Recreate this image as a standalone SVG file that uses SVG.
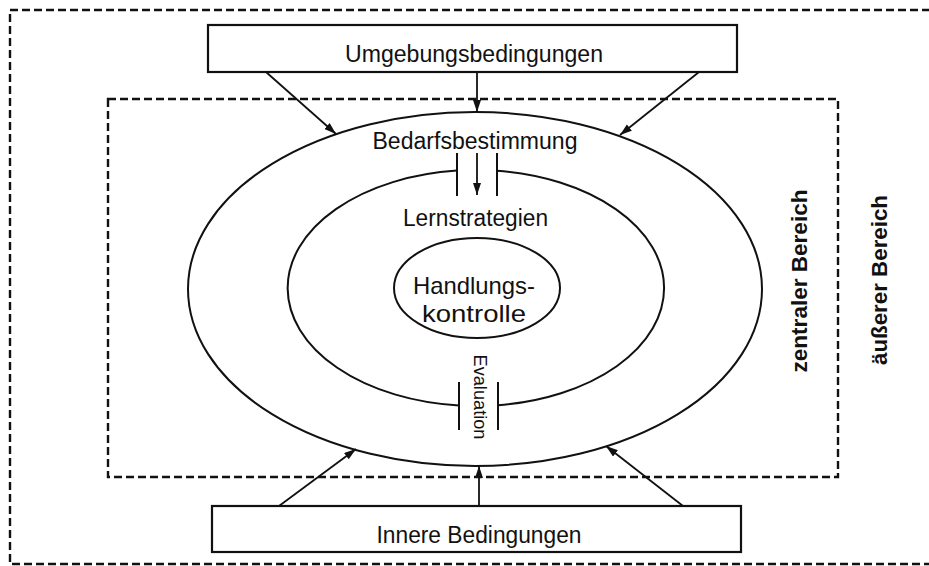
<svg xmlns="http://www.w3.org/2000/svg" width="929" height="566" viewBox="0 0 929 566">
  <style>
    .dash { fill: none; stroke: #111; stroke-width: 2.4; stroke-dasharray: 8 4; }
    .box { fill: #fff; stroke: #111; stroke-width: 2.2; }
    .ell { fill: none; stroke: #111; stroke-width: 2; }
    .ln { fill: none; stroke: #111; stroke-width: 2; }
    .arr { fill: none; stroke: #111; stroke-width: 1.8; marker-end: url(#ah); }
    .t { font-family: "Liberation Sans", Arial, sans-serif; font-size: 23px; fill: #111; text-anchor: middle; }
    .tb { font-family: "Liberation Sans", Arial, sans-serif; font-size: 22px; font-weight: bold; fill: #111; text-anchor: middle; }
  </style>
  <defs>
    <marker id="ah" markerUnits="userSpaceOnUse" markerWidth="14" markerHeight="10" refX="12" refY="4" orient="auto">
      <path d="M0,0 L12,4 L0,8 Z" fill="#111"/>
    </marker>
  </defs>
  <rect width="929" height="566" fill="#fff"/>

  <g id="aeusserer-bereich">
    <rect class="dash" x="10" y="10" width="940" height="554"/>
    <text class="tb" transform="translate(887,280) rotate(-90)" textLength="170" lengthAdjust="spacingAndGlyphs">äußerer Bereich</text>
  </g>
  <g id="zentraler-bereich">
    <rect class="dash" x="108" y="99" width="730" height="378"/>
    <text class="tb" transform="translate(807,281) rotate(-90)" textLength="183" lengthAdjust="spacingAndGlyphs">zentraler Bereich</text>
  </g>

  <g id="umgebungsbedingungen">
    <rect class="box" x="208" y="25" width="529" height="47"/>
    <text class="t" x="474" y="62" textLength="258" lengthAdjust="spacingAndGlyphs">Umgebungsbedingungen</text>
  </g>
  <g id="innere-bedingungen">
    <rect class="box" x="212" y="506" width="529" height="46"/>
    <text class="t" x="479" y="543" textLength="205" lengthAdjust="spacingAndGlyphs">Innere Bedingungen</text>
  </g>

  <g id="bedarfsbestimmung">
    <ellipse class="ell" cx="475" cy="289" rx="287" ry="177"/>
    <text class="t" x="475" y="149" textLength="205" lengthAdjust="spacingAndGlyphs">Bedarfsbestimmung</text>
  </g>
  <g id="lernstrategien">
    <path class="ell" d="M457,170.6 A188.5,118 0 0 0 459,405.5"/>
    <path class="ell" d="M497,170.8 A188.5,118 0 0 1 498,405.2"/>
    <line class="ln" x1="457" y1="153" x2="457" y2="196"/>
    <line class="ln" x1="497" y1="153" x2="497" y2="196"/>
    <line class="ln" x1="459" y1="382" x2="459" y2="430"/>
    <line class="ln" x1="498" y1="382" x2="498" y2="430"/>
    <text class="t" x="475.5" y="226" textLength="145" lengthAdjust="spacingAndGlyphs">Lernstrategien</text>
  </g>
  <g id="handlungskontrolle">
    <ellipse class="ell" cx="477" cy="288" rx="83" ry="50"/>
    <text class="t" x="474" y="294" style="font-size:24px" textLength="122" lengthAdjust="spacingAndGlyphs">Handlungs-</text>
    <text class="t" x="474" y="322" style="font-size:24px" textLength="104" lengthAdjust="spacingAndGlyphs">kontrolle</text>
  </g>
  <g id="evaluation">
    <text class="t" transform="translate(474,397) rotate(90)" style="font-size:18px" textLength="85" lengthAdjust="spacingAndGlyphs">Evaluation</text>
  </g>

  <g id="connectors">
    <line class="arr" x1="266" y1="72" x2="336" y2="134"/>
    <line class="arr" x1="477" y1="72" x2="477" y2="112"/>
    <line class="arr" x1="699" y1="72" x2="620" y2="135"/>
    <line class="arr" x1="477" y1="153" x2="477" y2="195"/>
    <line class="arr" x1="279" y1="506" x2="356" y2="449"/>
    <line class="arr" x1="479" y1="506" x2="479" y2="466"/>
    <line class="arr" x1="683" y1="506" x2="606" y2="446"/>
  </g>
</svg>
